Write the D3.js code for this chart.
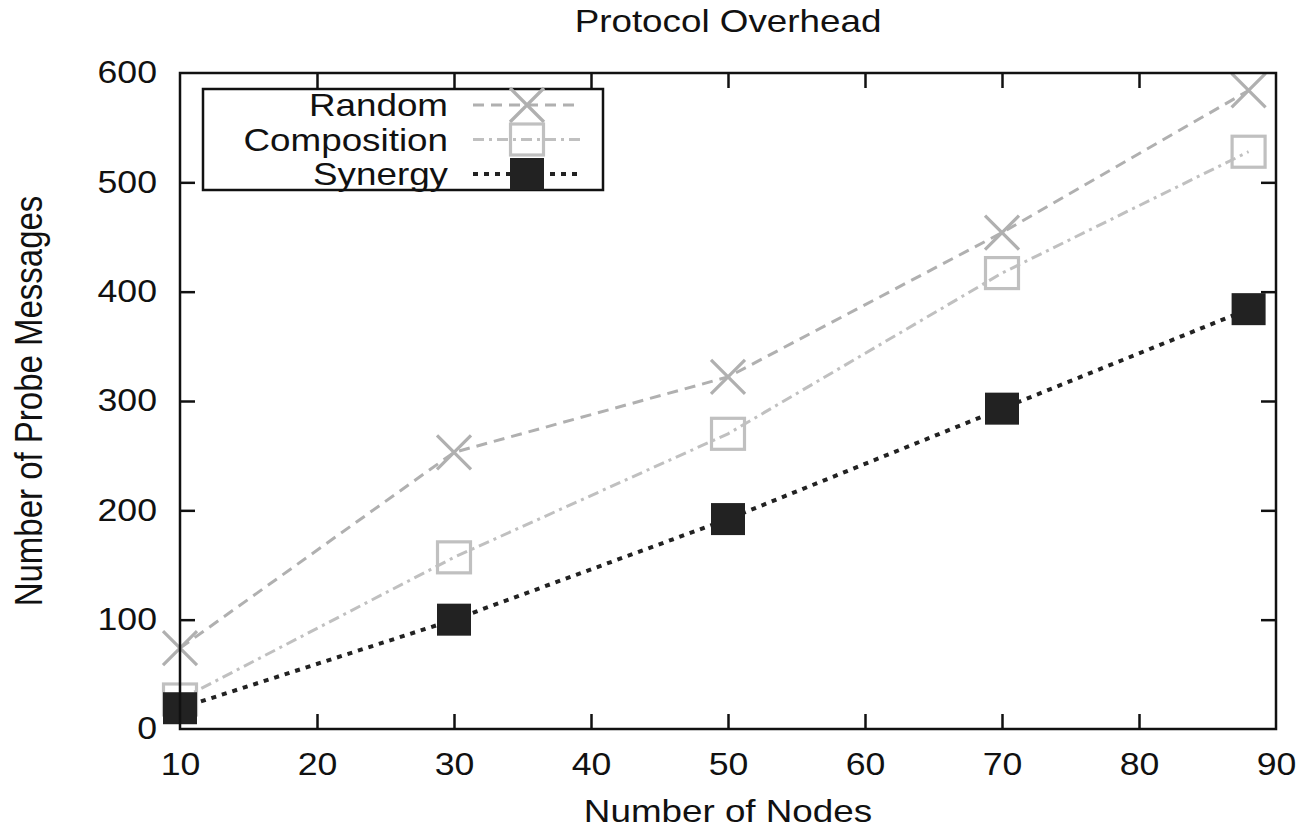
<!DOCTYPE html>
<html><head><meta charset="utf-8">
<script src="https://cdn.jsdelivr.net/npm/d3@7"></script>
<style>
body{margin:0;background:#fff;}
text{font-family:"Liberation Sans",Arial,Helvetica,sans-serif;fill:#111;}
</style></head>
<body><svg id="c" width="1306" height="830"></svg>
<script>
const nodes = [10, 30, 50, 70, 88];
const randomVals = [74, 253, 322, 454, 584];
const compositionVals = [27, 157, 270, 417, 528];
const synergyVals = [19, 100, 192, 293, 384];
const xTicks = [10, 20, 30, 40, 50, 60, 70, 80, 90];
const yTicks = [0, 100, 200, 300, 400, 500, 600];
const seriesNames = ["Random", "Composition", "Synergy"];

const SX = 1.15; // horizontal text stretch
const svg = d3.select("#c");
const L = 180, R = 1276, T = 73, B = 729;
const x = d3.scaleLinear().domain([10, 90]).range([L, R]);
const y = d3.scaleLinear().domain([0, 600]).range([B, T]);

const series = [
  {name: seriesNames[0], vals: randomVals, color: "#b0b0b0", dash: "11,7", width: 3, marker: "x"},
  {name: seriesNames[1], vals: compositionVals, color: "#c0c0c0", dash: "11,5,3,5", width: 3, marker: "sq"},
  {name: seriesNames[2], vals: synergyVals, color: "#222", dash: "5,6", width: 4, marker: "fsq"}
];

function stext(g, tx, ty, str, size, anchor, rot) {
  return g.append("text")
    .attr("transform", `translate(${tx},${ty}) scale(${SX},1)` + (rot ? ` rotate(${rot})` : ""))
    .attr("text-anchor", anchor).attr("font-size", size).text(str);
}
stext(svg, 728, 32, "Protocol Overhead", 32, "middle");
stext(svg, 728, 822, "Number of Nodes", 32, "middle");
stext(svg, 42, 401, "Number of Probe Messages", 33, "middle", -90);

// axes
const tick = 15;
const gx = svg.append("g").attr("transform", `translate(0,${B})`)
  .call(d3.axisBottom(x).tickValues(xTicks).tickSizeInner(-tick).tickSizeOuter(0).tickPadding(24));
const gy = svg.append("g").attr("transform", `translate(${L},0)`)
  .call(d3.axisLeft(y).tickValues(yTicks).tickSizeInner(-tick).tickSizeOuter(0).tickPadding(23));
const gt = svg.append("g").attr("transform", `translate(0,${T})`)
  .call(d3.axisTop(x).tickValues(xTicks).tickSizeInner(-tick).tickSizeOuter(0).tickFormat(""));
const gr = svg.append("g").attr("transform", `translate(${R},0)`)
  .call(d3.axisRight(y).tickValues(yTicks).tickSizeInner(-tick).tickSizeOuter(0).tickFormat(""));
[gx, gy, gt, gr].forEach(g => {
  g.select(".domain").remove();
  g.selectAll(".tick line").attr("stroke", "#111").attr("stroke-width", 2.5);
  g.selectAll(".tick text").attr("font-size", 31).attr("fill", "#111")
    .attr("font-family", '"Liberation Sans",Arial,sans-serif');
});
gx.selectAll(".tick text").attr("transform", `scale(${SX},1)`);
gy.selectAll(".tick text").attr("x", -23 / SX).attr("transform", `scale(${SX},1)`);
gx.selectAll(".tick").filter(d => d === 10 || d === 90).select("line").remove();
gy.selectAll(".tick").filter(d => d === 0 || d === 600).select("line").remove();
gt.selectAll(".tick").filter(d => d === 10 || d === 90).select("line").remove();
gr.selectAll(".tick").filter(d => d === 0 || d === 600).select("line").remove();

// lines and markers
const line = d3.line().x(d => x(d[0])).y(d => y(d[1]));
function drawMarker(g, type, cx, cy, color) {
  if (type === "x") {
    const h = 17;
    g.append("path").attr("d", `M${cx-h},${cy-h}L${cx+h},${cy+h}M${cx-h},${cy+h}L${cx+h},${cy-h}`)
      .attr("stroke", color).attr("stroke-width", 3.2).attr("fill", "none");
  } else if (type === "sq") {
    const w = 16.5, hh = 15.5;
    g.append("rect").attr("x", cx - w).attr("y", cy - hh).attr("width", 2 * w).attr("height", 2 * hh)
      .attr("fill", "none").attr("stroke", color).attr("stroke-width", 3.2);
  } else {
    const w = 17, hh = 16;
    g.append("rect").attr("x", cx - w).attr("y", cy - hh).attr("width", 2 * w).attr("height", 2 * hh)
      .attr("fill", color);
  }
}
const plot = svg.append("g");
series.forEach(s => {
  const pts = nodes.map((n, i) => [n, s.vals[i]]);
  plot.append("path").datum(pts).attr("d", line).attr("fill", "none")
    .attr("stroke", s.color).attr("stroke-width", s.width).attr("stroke-dasharray", s.dash);
  pts.forEach(p => drawMarker(plot, s.marker, x(p[0]), y(p[1]), s.color));
});

// frame
svg.append("rect").attr("x", L).attr("y", T).attr("width", R - L).attr("height", B - T)
  .attr("fill", "none").attr("stroke", "#111").attr("stroke-width", 2.5);

// legend
const lg = svg.append("g");
lg.append("rect").attr("x", 203).attr("y", 89).attr("width", 400).attr("height", 101)
  .attr("fill", "#fff").attr("stroke", "#111").attr("stroke-width", 2.5);
series.forEach((s, i) => {
  const cy = 105 + i * 34.5;
  stext(lg, 448, cy + 11, s.name, 32, "end");
  lg.append("line").attr("x1", 473).attr("x2", 580).attr("y1", cy).attr("y2", cy)
    .attr("stroke", s.color).attr("stroke-width", s.width).attr("stroke-dasharray", s.dash);
  drawMarker(lg, s.marker, 527, cy, s.color);
});
</script></body></html>
